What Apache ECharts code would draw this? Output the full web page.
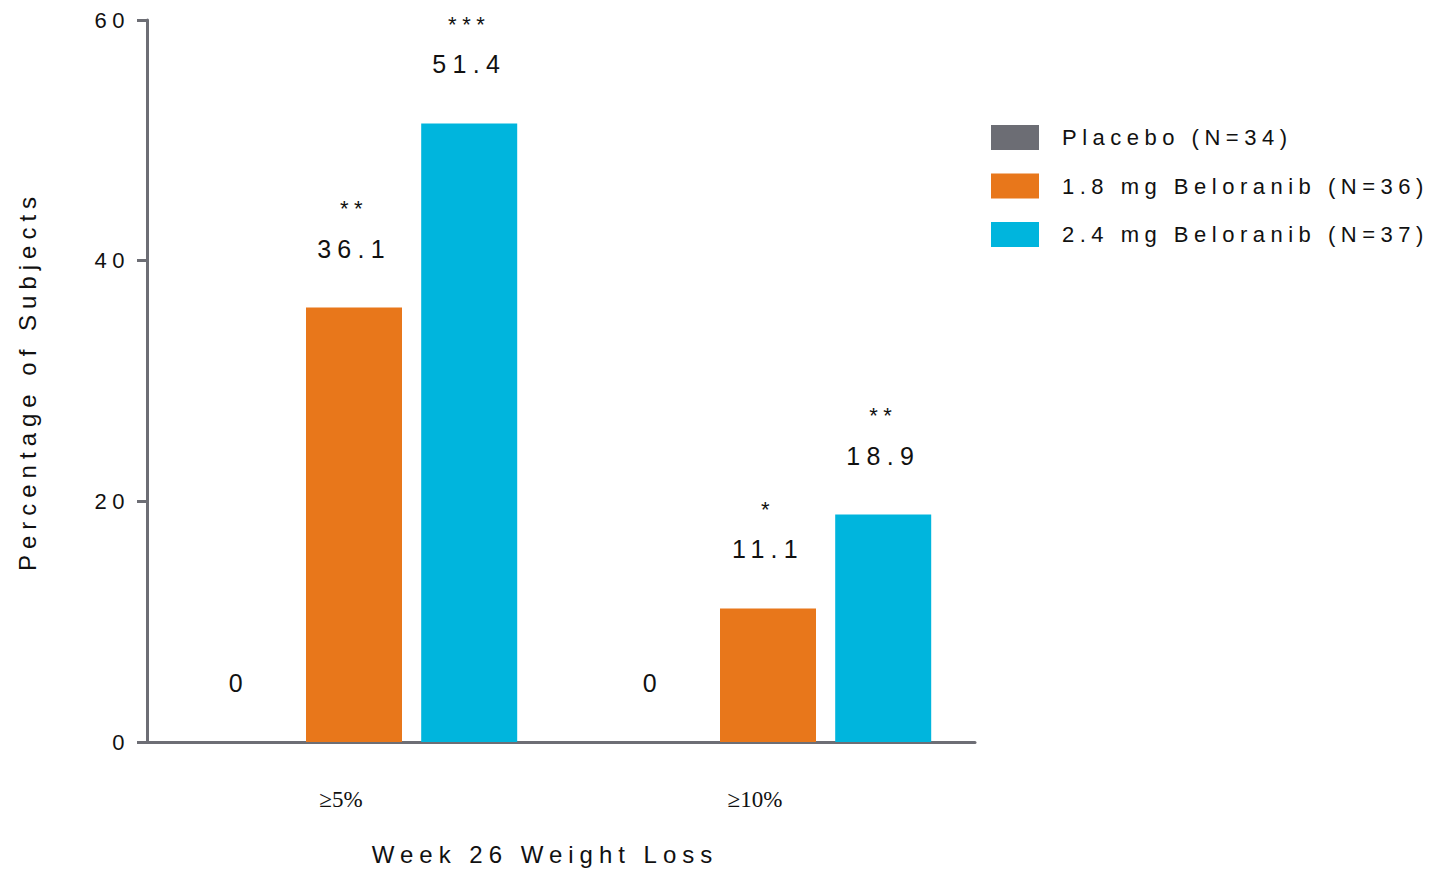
<!DOCTYPE html>
<html>
<head>
<meta charset="utf-8">
<script src="https://cdn.jsdelivr.net/npm/echarts@6/dist/echarts.min.js"></script>
<style>
  html, body { margin: 0; padding: 0; background: #ffffff; }
  #chart { width: 1435px; height: 871px; }
  /* wide tracking used throughout the figure's lettering */
  #chart text { letter-spacing: 0.25em; }
  /* the serif category labels are set tight */
  #chart text[style*="Serif"] { letter-spacing: 0; }
</style>
</head>
<body>
<div id="chart"></div>
<script>
// Week 26 weight-loss responders by treatment arm
const categories = ['≥5%', '≥10%'];
const seriesNames = ['Placebo (N=34)', '1.8 mg Beloranib (N=36)', '2.4 mg Beloranib (N=37)'];
const placebo = [0, 0];
const beloranib18 = [36.1, 11.1];
const beloranib24 = [51.4, 18.9];
const placeboStars = ['', ''];
const beloranib18Stars = ['**', '*'];
const beloranib24Stars = ['***', '**'];
const yTicks = [0, 20, 40, 60];

const colors = ['#6c6d74', '#e8771b', '#00b5dd'];
const axisGray = '#6d6e75';
const FONT = '"Liberation Sans", Arial, sans-serif';

function labelFor(stars) {
  return {
    show: true,
    position: 'top',
    distance: 44,
    formatter: p => {
      const s = stars[p.dataIndex];
      const v = p.value === 0 ? '0' : p.value.toFixed(1);
      return s ? `{s|${s}}\n{v|${v}}` : `{v|${v}}`;
    },
    rich: {
      s: { fontSize: 22, lineHeight: 50, color: '#111', fontFamily: FONT },
      v: { fontSize: 25, lineHeight: 30, color: '#111', fontFamily: FONT }
    }
  };
}

const values = [placebo, beloranib18, beloranib24];
const stars = [placeboStars, beloranib18Stars, beloranib24Stars];

const chart = echarts.init(document.getElementById('chart'), null, { renderer: 'svg' });
chart.setOption({
  animation: false,
  color: colors,
  textStyle: { fontFamily: FONT },
  grid: { left: 147, right: 460, top: 20, bottom: 128, containLabel: false },
  legend: {
    orient: 'vertical',
    left: 991,
    top: 125,
    padding: 0,
    itemWidth: 48,
    itemHeight: 25,
    itemGap: 23.5,
    icon: 'rect',
    data: seriesNames,
    textStyle: { fontSize: 22, color: '#111', fontFamily: FONT, padding: [0, 0, 0, 18] }
  },
  xAxis: {
    type: 'category',
    data: categories,
    name: 'Week 26 Weight Loss',
    nameLocation: 'middle',
    nameGap: 100,
    nameTextStyle: { fontSize: 24, color: '#111', fontFamily: FONT, padding: [0, 32, 0, 0] },
    axisLine: { lineStyle: { color: axisGray, width: 3 } },
    axisTick: { show: false },
    axisLabel: {
      margin: 46,
      fontSize: 23,
      color: '#111',
      padding: [0, 26, 0, 0],
      fontFamily: '"Liberation Serif", "Times New Roman", serif'
    }
  },
  yAxis: {
    type: 'value',
    min: 0,
    max: 60,
    interval: 20,
    name: 'Percentage of Subjects',
    nameLocation: 'middle',
    nameGap: 108,
    nameTextStyle: { fontSize: 24, color: '#111', fontFamily: FONT },
    axisLine: { show: true, lineStyle: { color: axisGray, width: 3 } },
    axisTick: { show: true, length: 10, lineStyle: { color: axisGray, width: 3 } },
    splitLine: { show: false },
    axisLabel: {
      margin: 17,
      fontSize: 22,
      color: '#111',
      fontFamily: FONT,
      formatter: v => (yTicks.includes(v) ? String(v) : '')
    }
  },
  series: seriesNames.map((name, i) => ({
    name,
    type: 'bar',
    data: values[i],
    barWidth: 96,
    barGap: '20%',
    itemStyle: { color: colors[i] },
    label: labelFor(stars[i])
  }))
});
</script>
</body>
</html>
